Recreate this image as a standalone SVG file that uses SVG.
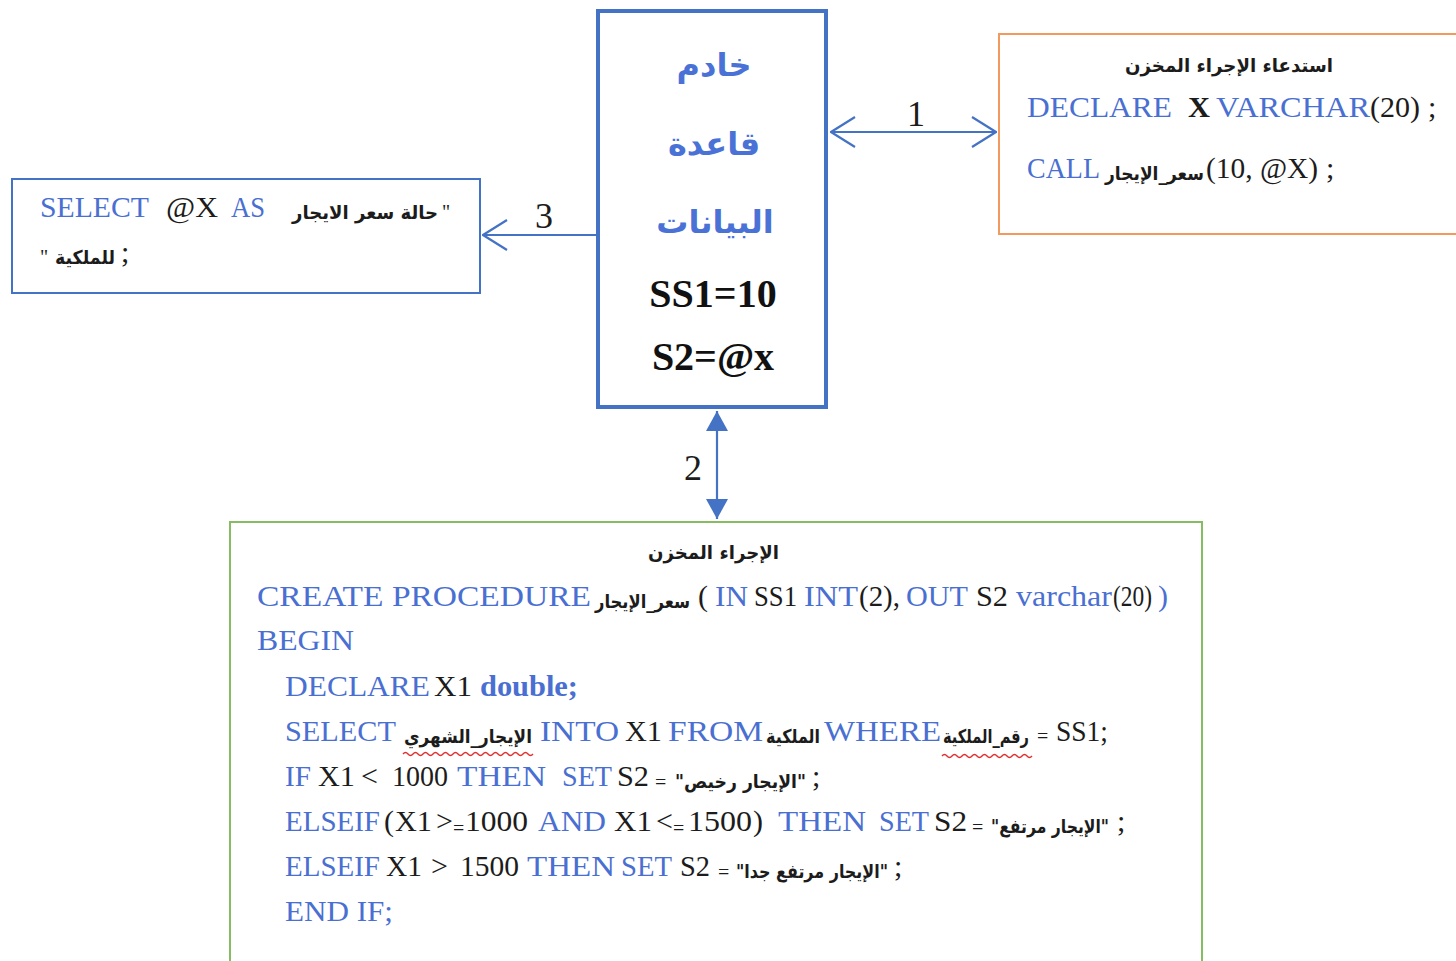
<svg xmlns="http://www.w3.org/2000/svg" width="1456" height="961" viewBox="0 0 1456 961">
  <style>
    .kw { font-family: "Liberation Serif", serif; font-size: 30px; fill: #4A6FD2; }
    .tx { font-family: "Liberation Serif", serif; font-size: 30px; fill: #1c1c1c; }
    .sm { font-family: "Liberation Serif", serif; font-size: 20px; fill: #1c1c1c; }
    .ar { font-family: "DejaVu Sans", sans-serif; font-weight: bold; font-size: 19px; fill: #1c1c1c; }
    .arT { font-family: "DejaVu Sans", sans-serif; font-weight: bold; font-size: 32px; fill: #4A72D6; }
    .big { font-family: "Liberation Serif", serif; font-weight: bold; font-size: 40px; fill: #111; }
    .num { font-family: "Liberation Serif", serif; font-size: 36px; fill: #1c1c1c; }
    .conn { stroke: #4472C4; stroke-width: 2.2; fill: none; }
    .squig { stroke: #E03030; stroke-width: 1.4; fill: none; }
  </style>
  <defs>
    <marker id="chev" viewBox="0 0 26 32" refX="25" refY="16" markerWidth="26" markerHeight="32" markerUnits="userSpaceOnUse" orient="auto-start-reverse">
      <path d="M1,1 L25,16 L1,31" fill="none" stroke="#4472C4" stroke-width="2.2"/>
    </marker>
    <marker id="tri" viewBox="0 0 20 22" refX="20" refY="11" markerWidth="20" markerHeight="22" markerUnits="userSpaceOnUse" orient="auto-start-reverse">
      <path d="M0,0 L20,11 L0,22 z" fill="#4472C4"/>
    </marker>
  </defs>

  <rect width="1456" height="961" fill="#ffffff"/>

  <!-- connectors -->
  <g id="connectors">
    <line class="conn" x1="831" y1="132" x2="996" y2="132" marker-start="url(#chev)" marker-end="url(#chev)"/>
    <text class="num" x="907" y="126">1</text>
    <line class="conn" x1="596" y1="235" x2="483" y2="235" marker-end="url(#chev)"/>
    <text class="num" x="535" y="228">3</text>
    <line class="conn" x1="717" y1="411" x2="717" y2="519" marker-start="url(#tri)" marker-end="url(#tri)"/>
    <text class="num" x="684" y="480">2</text>
  </g>

  <!-- database server -->
  <g id="server">
    <rect x="598" y="11" width="228" height="396" fill="none" stroke="#4472C4" stroke-width="4"/>
    <text class="arT" x="714" y="76" text-anchor="middle">خادم</text>
    <text class="arT" x="714" y="155" text-anchor="middle">قاعدة</text>
    <text class="arT" x="715" y="233" text-anchor="middle">البيانات</text>
    <text class="big" x="713" y="307" text-anchor="middle">SS1=10</text>
    <text class="big" x="713" y="370" text-anchor="middle">S2=@x</text>
  </g>

  <!-- procedure call -->
  <g id="call">
    <rect x="999" y="34" width="470" height="200" fill="none" stroke="#F29A5E" stroke-width="2"/>
    <text class="ar" x="1125" y="72" textLength="208" lengthAdjust="spacingAndGlyphs">استدعاء الإجراء المخزن</text>
    <text class="kw" x="1027" y="117" textLength="145" lengthAdjust="spacingAndGlyphs">DECLARE</text>
    <text class="tx" x="1188" y="117" font-weight="bold" textLength="22" lengthAdjust="spacingAndGlyphs">X</text>
    <text class="kw" x="1216" y="117" textLength="154" lengthAdjust="spacingAndGlyphs">VARCHAR</text>
    <text class="tx" x="1370" y="117" textLength="50" lengthAdjust="spacingAndGlyphs">(20)</text>
    <text class="tx" x="1428" y="117">;</text>
    <text class="kw" x="1027" y="178" textLength="73" lengthAdjust="spacingAndGlyphs">CALL</text>
    <text class="ar" x="1105" y="180" textLength="99" lengthAdjust="spacingAndGlyphs">سعر_الإيجار</text>
    <text class="tx" x="1206" y="178" textLength="112" lengthAdjust="spacingAndGlyphs">(10, @X)</text>
    <text class="tx" x="1326" y="178">;</text>
  </g>

  <!-- result query -->
  <g id="result">
    <rect x="12" y="179" width="468" height="114" fill="none" stroke="#4472C4" stroke-width="2"/>
    <text class="kw" x="40" y="217" textLength="109" lengthAdjust="spacingAndGlyphs">SELECT</text>
    <text class="tx" x="166" y="217" textLength="52" lengthAdjust="spacingAndGlyphs">@X</text>
    <text class="kw" x="231" y="217" textLength="34" lengthAdjust="spacingAndGlyphs">AS</text>
    <text class="ar" x="292" y="219" textLength="146" lengthAdjust="spacingAndGlyphs">حالة سعر الايجار</text>
    <text class="sm" x="442" y="219">"</text>
    <text class="sm" x="40" y="264">"</text>
    <text class="ar" x="55" y="264" textLength="60" lengthAdjust="spacingAndGlyphs">للملكية</text>
    <text class="tx" x="121" y="262">;</text>
  </g>

  <!-- stored procedure -->
  <g id="procedure">
    <rect x="230" y="522" width="972" height="460" fill="none" stroke="#86BD62" stroke-width="2"/>
    <text class="ar" x="648" y="559" textLength="131" lengthAdjust="spacingAndGlyphs">الإجراء المخزن</text>

    <text class="kw" x="257" y="606" textLength="334" lengthAdjust="spacingAndGlyphs">CREATE PROCEDURE</text>
    <text class="ar" x="595" y="608" textLength="95" lengthAdjust="spacingAndGlyphs">سعر_الإيجار</text>
    <text class="tx" x="698" y="606">(</text>
    <text class="kw" x="715" y="606" textLength="33" lengthAdjust="spacingAndGlyphs">IN</text>
    <text class="tx" x="754" y="606" textLength="43" lengthAdjust="spacingAndGlyphs">SS1</text>
    <text class="kw" x="804" y="606" textLength="54" lengthAdjust="spacingAndGlyphs">INT</text>
    <text class="tx" x="859" y="606" textLength="41" lengthAdjust="spacingAndGlyphs">(2),</text>
    <text class="kw" x="906" y="606" textLength="62" lengthAdjust="spacingAndGlyphs">OUT</text>
    <text class="tx" x="976" y="606" textLength="32" lengthAdjust="spacingAndGlyphs">S2</text>
    <text class="kw" x="1016" y="606" font-size="26" textLength="96" lengthAdjust="spacingAndGlyphs">varchar</text>
    <text class="tx" x="1113" y="606" textLength="39" lengthAdjust="spacingAndGlyphs">(20)</text>
    <text class="kw" x="1158" y="606">)</text>

    <text class="kw" x="257" y="650" textLength="97" lengthAdjust="spacingAndGlyphs">BEGIN</text>

    <text class="kw" x="285" y="696" textLength="145" lengthAdjust="spacingAndGlyphs">DECLARE</text>
    <text class="tx" x="434" y="696" textLength="38" lengthAdjust="spacingAndGlyphs">X1</text>
    <text class="kw" x="480" y="696" font-size="27" font-weight="bold" textLength="98" lengthAdjust="spacingAndGlyphs">double;</text>

    <text class="kw" x="285" y="741" textLength="111" lengthAdjust="spacingAndGlyphs">SELECT</text>
    <text class="ar" x="404" y="743" textLength="128" lengthAdjust="spacingAndGlyphs">الإيجار_الشهري</text>
    <text class="kw" x="540" y="741" textLength="79" lengthAdjust="spacingAndGlyphs">INTO</text>
    <text class="tx" x="625" y="741" textLength="37" lengthAdjust="spacingAndGlyphs">X1</text>
    <text class="kw" x="668" y="741" textLength="95" lengthAdjust="spacingAndGlyphs">FROM</text>
    <text class="ar" x="766" y="743" textLength="54" lengthAdjust="spacingAndGlyphs">الملكية</text>
    <text class="kw" x="824" y="741" textLength="117" lengthAdjust="spacingAndGlyphs">WHERE</text>
    <text class="ar" x="943" y="743" textLength="86" lengthAdjust="spacingAndGlyphs">رقم_الملكية</text>
    <text class="sm" x="1037" y="743">=</text>
    <text class="tx" x="1056" y="741" textLength="52" lengthAdjust="spacingAndGlyphs">SS1;</text>
    <path class="squig" d="M403,754 q2.5,-3 5,0 t5,0 t5,0 t5,0 t5,0 t5,0 t5,0 t5,0 t5,0 t5,0 t5,0 t5,0 t5,0 t5,0 t5,0 t5,0 t5,0 t5,0 t5,0 t5,0 t5,0 t5,0 t5,0 t5,0 t5,0 t5,0"/>
    <path class="squig" d="M942,756 q2.5,-3 5,0 t5,0 t5,0 t5,0 t5,0 t5,0 t5,0 t5,0 t5,0 t5,0 t5,0 t5,0 t5,0 t5,0 t5,0 t5,0 t5,0 t5,0"/>

    <text class="kw" x="285" y="786" textLength="26" lengthAdjust="spacingAndGlyphs">IF</text>
    <text class="tx" x="318" y="786" textLength="37" lengthAdjust="spacingAndGlyphs">X1</text>
    <text class="tx" x="361" y="786">&lt;</text>
    <text class="tx" x="392" y="786" textLength="56" lengthAdjust="spacingAndGlyphs">1000</text>
    <text class="kw" x="457" y="786" textLength="89" lengthAdjust="spacingAndGlyphs">THEN</text>
    <text class="kw" x="562" y="786" textLength="50" lengthAdjust="spacingAndGlyphs">SET</text>
    <text class="tx" x="617" y="786" textLength="32" lengthAdjust="spacingAndGlyphs">S2</text>
    <text class="sm" x="655" y="789">=</text>
    <text class="ar" x="675" y="788" textLength="131" lengthAdjust="spacingAndGlyphs">"الإيجار رخيص"</text>
    <text class="tx" x="812" y="786">;</text>

    <text class="kw" x="285" y="831" textLength="95" lengthAdjust="spacingAndGlyphs">ELSEIF</text>
    <text class="tx" x="384" y="831">(</text>
    <text class="tx" x="395" y="831" textLength="37" lengthAdjust="spacingAndGlyphs">X1</text>
    <text class="tx" x="436" y="831">&gt;</text>
    <text class="sm" x="453" y="835">=</text>
    <text class="tx" x="465" y="831" textLength="63" lengthAdjust="spacingAndGlyphs">1000</text>
    <text class="kw" x="538" y="831" textLength="68" lengthAdjust="spacingAndGlyphs">AND</text>
    <text class="tx" x="614" y="831" textLength="38" lengthAdjust="spacingAndGlyphs">X1</text>
    <text class="tx" x="656" y="831">&lt;</text>
    <text class="sm" x="673" y="835">=</text>
    <text class="tx" x="688" y="831" textLength="64" lengthAdjust="spacingAndGlyphs">1500</text>
    <text class="tx" x="753" y="831">)</text>
    <text class="kw" x="778" y="831" textLength="88" lengthAdjust="spacingAndGlyphs">THEN</text>
    <text class="kw" x="879" y="831" textLength="50" lengthAdjust="spacingAndGlyphs">SET</text>
    <text class="tx" x="934" y="831" textLength="33" lengthAdjust="spacingAndGlyphs">S2</text>
    <text class="sm" x="972" y="834">=</text>
    <text class="ar" x="991" y="833" textLength="118" lengthAdjust="spacingAndGlyphs">"الإيجار مرتفع"</text>
    <text class="tx" x="1117" y="831">;</text>

    <text class="kw" x="285" y="876" textLength="95" lengthAdjust="spacingAndGlyphs">ELSEIF</text>
    <text class="tx" x="386" y="876" textLength="36" lengthAdjust="spacingAndGlyphs">X1</text>
    <text class="tx" x="431" y="876">&gt;</text>
    <text class="tx" x="460" y="876" textLength="59" lengthAdjust="spacingAndGlyphs">1500</text>
    <text class="kw" x="527" y="876" textLength="88" lengthAdjust="spacingAndGlyphs">THEN</text>
    <text class="kw" x="621" y="876" textLength="51" lengthAdjust="spacingAndGlyphs">SET</text>
    <text class="tx" x="680" y="876" textLength="30" lengthAdjust="spacingAndGlyphs">S2</text>
    <text class="sm" x="718" y="879">=</text>
    <text class="ar" x="736" y="878" textLength="152" lengthAdjust="spacingAndGlyphs">"الإيجار مرتفع جدا"</text>
    <text class="tx" x="894" y="876">;</text>

    <text class="kw" x="285" y="921" textLength="108" lengthAdjust="spacingAndGlyphs">END IF;</text>
  </g>
</svg>
